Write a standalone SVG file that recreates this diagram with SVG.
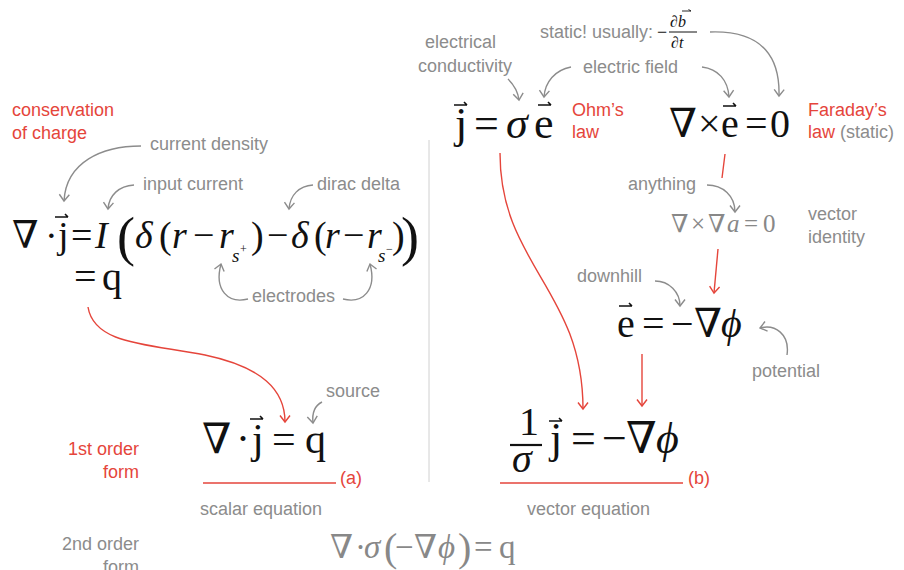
<svg xmlns="http://www.w3.org/2000/svg" xmlns:xlink="http://www.w3.org/1999/xlink" width="904" height="570" viewBox="0 0 904 570">
<style>
.lbl{font-family:"Liberation Sans",Arial,sans-serif;font-size:18px;fill:#8c8c8c}
.red{fill:#e5453b}
.m{font-family:"Liberation Serif","DejaVu Serif",serif;fill:#111}
.mg{font-family:"Liberation Serif","DejaVu Serif",serif;fill:#888}
.i{font-style:italic}
.ga{fill:none;stroke:#8c8c8c;stroke-width:1.4;marker-end:url(#ag)}
.ra{fill:none;stroke:#e5453b;stroke-width:1.4;marker-end:url(#ar)}
.rl{fill:none;stroke:#e5453b;stroke-width:1.4}
</style>
<defs>
<marker id="ag" viewBox="-9 -7 11 14" refX="0" refY="0" markerWidth="11" markerHeight="14" markerUnits="userSpaceOnUse" orient="auto" overflow="visible">
<path d="M-6.5,-5 L0,0 L-6.5,5" fill="none" stroke="#8c8c8c" stroke-width="1.4"/>
</marker>
<marker id="ar" viewBox="-9 -7 11 14" refX="0" refY="0" markerWidth="11" markerHeight="14" markerUnits="userSpaceOnUse" orient="auto" overflow="visible">
<path d="M-6.5,-5 L0,0 L-6.5,5" fill="none" stroke="#e5453b" stroke-width="1.4"/>
</marker>
<path id="vec" d="M0,0 H13 M10,-3 L13,0" fill="none" stroke="#111" stroke-width="1.6"/>
</defs>

<line x1="429" y1="140" x2="429" y2="482" stroke="#d0d0d0" stroke-width="1"/>

<g id="conservation">
<text class="lbl red" x="12" y="116" font-size="18.5">conservation</text>
<text class="lbl red" x="12" y="139" font-size="18.5">of charge</text>
</g>

<g id="label-current-density"><text class="lbl" x="150" y="150">current density</text></g>
<g id="label-input-current"><text class="lbl" x="143" y="190">input current</text></g>
<g id="label-dirac-delta"><text class="lbl" x="317" y="190">dirac delta</text></g>
<g id="label-electrodes"><text class="lbl" x="252" y="302">electrodes</text></g>

<g id="eq-conservation">
<text class="m" font-size="38" y="248">
<tspan x="12">∇</tspan><tspan x="45">·</tspan><tspan x="58">j</tspan><tspan x="71">=</tspan><tspan class="i" x="95">I</tspan>
<tspan class="i" x="135">δ</tspan><tspan x="159">(</tspan><tspan class="i" x="172">r</tspan><tspan x="193">−</tspan><tspan class="i" x="219">r</tspan>
<tspan x="251">)</tspan><tspan x="267">−</tspan><tspan class="i" x="291">δ</tspan><tspan x="314">(</tspan><tspan class="i" x="325">r</tspan><tspan x="343">−</tspan><tspan class="i" x="367">r</tspan><tspan x="392">)</tspan>
</text>
<text class="m" font-size="54" y="255"><tspan x="117">(</tspan><tspan x="401">)</tspan></text>
<text class="m i" font-size="19" y="262"><tspan x="232">s</tspan><tspan x="378">s</tspan></text>
<text class="m" font-size="12" y="253"><tspan x="240">+</tspan><tspan x="386">−</tspan></text>
<use xlink:href="#vec" x="55" y="217"/>
<text class="m" font-size="40" y="290"><tspan x="74">=</tspan><tspan x="102">q</tspan></text>
</g>

<g id="label-electrical-conductivity">
<text class="lbl" x="425" y="48">electrical</text>
<text class="lbl" x="418" y="72">conductivity</text>
</g>
<g id="label-static">
<text class="lbl" x="540" y="38">static! usually:</text>
<text class="m" font-size="18" x="657" y="38">−</text>
<text class="m i" font-size="16" x="670" y="27">∂b</text>
<line x1="669" y1="32" x2="697" y2="32" stroke="#111" stroke-width="1"/>
<text class="m i" font-size="16" x="671" y="48">∂t</text>
<path d="M682,11 H691 M688.5,9.5 L691,11" fill="none" stroke="#111" stroke-width="0.9"/>
</g>
<g id="label-electric-field"><text class="lbl" x="583" y="73">electric field</text></g>

<g id="eq-ohm">
<text class="m" font-size="44" y="138"><tspan x="455">j</tspan><tspan x="474">=</tspan><tspan class="i" x="506">σ</tspan><tspan x="534">e</tspan></text>
<use xlink:href="#vec" x="454" y="105"/>
<use xlink:href="#vec" x="538" y="105"/>
</g>
<g id="label-ohm">
<text class="lbl red" x="572" y="116" font-size="18.5">Ohm’s</text>
<text class="lbl red" x="572" y="138" font-size="18.5">law</text>
</g>

<g id="eq-faraday">
<text class="m" font-size="40" y="137"><tspan x="669">∇</tspan><tspan x="698">×</tspan><tspan x="721">e</tspan><tspan x="745">=</tspan><tspan x="770">0</tspan></text>
<use xlink:href="#vec" x="723" y="106"/>
</g>
<g id="label-faraday">
<text class="lbl red" x="808" y="116" font-size="18.5">Faraday’s</text>
<text class="lbl" x="808" y="138" font-size="18.5"><tspan class="red">law</tspan> (static)</text>
</g>

<g id="label-anything"><text class="lbl" x="628" y="190">anything</text></g>
<g id="eq-identity">
<text class="mg" font-size="25" y="232"><tspan x="671">∇</tspan><tspan x="691">×</tspan><tspan x="708">∇</tspan><tspan class="i" x="727">a</tspan><tspan x="744">=</tspan><tspan x="763">0</tspan></text>
</g>
<g id="label-vector-identity">
<text class="lbl" x="808" y="220">vector</text>
<text class="lbl" x="808" y="243">identity</text>
</g>

<g id="label-downhill"><text class="lbl" x="577" y="282">downhill</text></g>
<g id="eq-gradient">
<text class="m" font-size="40" y="337"><tspan x="617">e</tspan><tspan x="642">=</tspan><tspan x="671">−</tspan><tspan x="694">∇</tspan><tspan class="i" x="721">ϕ</tspan></text>
<use xlink:href="#vec" x="619" y="306"/>
</g>
<g id="label-potential"><text class="lbl" x="752" y="377">potential</text></g>

<g id="label-source"><text class="lbl" x="326" y="397">source</text></g>
<g id="eq-first-order-a">
<text class="m" font-size="42" y="453"><tspan x="202">∇</tspan><tspan x="236">·</tspan><tspan x="252">j</tspan><tspan x="272">=</tspan><tspan x="305">q</tspan></text>
<use xlink:href="#vec" x="250" y="419"/>
<line x1="203" y1="483" x2="336" y2="483" stroke="#e5453b" stroke-width="1.6"/>
<text class="lbl red" x="340" y="484">(a)</text>
</g>
<g id="label-scalar"><text class="lbl" x="200" y="515">scalar equation</text></g>

<g id="eq-first-order-b">
<text class="m" font-size="40" x="519" y="435">1</text>
<line x1="510" y1="445" x2="542" y2="445" stroke="#111" stroke-width="2.2"/>
<text class="m i" font-size="40" x="512" y="472">σ</text>
<text class="m" font-size="44" y="453"><tspan x="550">j</tspan><tspan x="571">=</tspan><tspan x="602">−</tspan><tspan x="626">∇</tspan><tspan class="i" x="656">ϕ</tspan></text>
<use xlink:href="#vec" x="549" y="421"/>
<line x1="500" y1="483" x2="683" y2="483" stroke="#e5453b" stroke-width="1.6"/>
<text class="lbl red" x="688" y="484">(b)</text>
</g>
<g id="label-vector-eq"><text class="lbl" x="527" y="515">vector equation</text></g>

<g id="label-first-order">
<text class="lbl red" x="139" y="455" text-anchor="end" font-size="18.5">1st order</text>
<text class="lbl red" x="139" y="478" text-anchor="end" font-size="18.5">form</text>
</g>
<g id="label-second-order">
<text class="lbl" x="139" y="550" text-anchor="end" font-size="18.5">2nd order</text>
<text class="lbl" x="139" y="573" text-anchor="end" font-size="18.5">form</text>
</g>
<g id="eq-second-order">
<text class="mg" font-size="33" y="558"><tspan x="330">∇</tspan><tspan x="355">·</tspan><tspan class="i" x="364">σ</tspan><tspan x="395">−</tspan><tspan x="414">∇</tspan><tspan class="i" x="438">ϕ</tspan><tspan x="474">=</tspan><tspan x="499">q</tspan></text>
<text class="mg" font-size="40" y="561"><tspan x="384">(</tspan><tspan x="458">)</tspan></text>
</g>

<g id="connectors">
<path class="ga" d="M141,146 C102,146 66,162 64,201"/>
<path class="ga" d="M134,185 C119,186 109,195 108,209"/>
<path class="ga" d="M313,185 C299,186 290,195 289,209"/>
<path class="ga" d="M248,299 C228,304 214,290 221,264"/>
<path class="ga" d="M343,299 C363,304 377,290 370,264"/>
<path class="ga" d="M508,79 C514,85 518,92 519,100"/>
<path class="ga" d="M571,67 C555,70 545,82 544,97"/>
<path class="ga" d="M702,67 C718,69 728,80 729,97"/>
<path class="ga" d="M710,32 C765,30 780,60 779,96"/>
<path class="ga" d="M707,185 C723,185 735,196 735,212"/>
<path class="ga" d="M655,281 C669,281 680,292 680,306"/>
<path class="ga" d="M787,355 C790,334 775,324 760,328"/>
<path class="ga" d="M322,402 C314,406 312,414 313,423"/>
<path class="ra" d="M88,307 C94,345 150,344 205,355 C262,367 285,390 285,422"/>
<path class="ra" d="M500,153 C500,265 583,290 583,409"/>
<path class="rl" d="M725,154 L722,178"/>
<path class="ra" d="M718,249 L714,293"/>
<path class="ra" d="M642,354 L642,406"/>
</g>
</svg>
